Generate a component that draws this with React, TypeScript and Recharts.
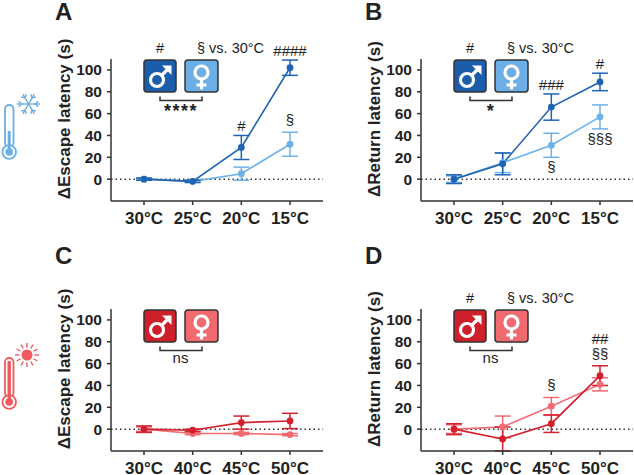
import React from 'react';
import { LineChart, Line, XAxis, YAxis, ErrorBar, ReferenceLine } from 'recharts';

// categories
const coldTemps = ['30°C', '25°C', '20°C', '15°C'];
const heatTemps = ['30°C', '40°C', '45°C', '50°C'];
const yTicks = [0, 20, 40, 60, 80, 100];

// A - escape latency, cold
const escColdMale = [0, -2, 29, 102];
const escColdMaleErr = [1, 1, 11, 7];
const escColdFemale = [0, -2, 5, 32];
const escColdFemaleErr = [1, 1, 6, 11];
const escColdMaleAbove = ['', '', '#', '####'];
const escColdFemaleAbove = ['', '', '', '§'];

// B - return latency, cold
const retColdMale = [0, 14, 66, 89];
const retColdMaleErr = [4, 10, 12, 8];
const retColdFemale = [0, 15, 31, 57];
const retColdFemaleErr = [3, 9, 11, 11];
const retColdMaleAbove = ['', '', '###', '#'];
const retColdFemaleBelow = ['', '', '§', '§§§'];

// C - escape latency, heat
const escHeatMale = [0, -1, 6, 7.5];
const escHeatMaleErr = [3, 1, 6, 7];
const escHeatFemale = [0, -4, -4, -5];
const escHeatFemaleErr = [2, 1, 1, 1];

// D - return latency, heat
const retHeatMale = [0, -9, 5, 49];
const retHeatMaleErr = [5, 11, 8, 9];
const retHeatFemale = [0, 2, 21, 41];
const retHeatFemaleErr = [4, 10, 8, 6];
const retHeatMaleAbove = ['', '', '', '##'];
const retHeatFemaleAbove = ['', '', '§', '§§'];

const blue = { dark: '#1f63b3', light: '#6db1e8', boxDark: '#1b5dab', boxLight: '#6caee6' };
const red = { dark: '#d3202e', light: '#f26a72', boxDark: '#cf1f2a', boxLight: '#f06a70' };

const Y_MIN = -20;
const Y_MAX = 110;
const PLOT_TOP = 59;
const CH_H = 240;
const CH_W = 324;
const PLOT_H = CH_H - PLOT_TOP - 9 - 30;
const K = PLOT_H / (Y_MAX - Y_MIN);
const INK = '#222';
const FONT = '"Liberation Sans", Arial, sans-serif';

type Row = {
  t: string;
  male: number; maleErr: number; female: number; femaleErr: number;
  maleAbove: string; femaleAbove: string; maleBelow: string; femaleBelow: string;
};

const blank = ['', '', '', ''];

function makeRows(cats: string[], m: number[], me: number[], f: number[], fe: number[],
  mA = blank, fA = blank, mB = blank, fB = blank): Row[] {
  return cats.map((t, i) => ({
    t, male: m[i], maleErr: me[i], female: f[i], femaleErr: fe[i],
    maleAbove: mA[i], femaleAbove: fA[i], maleBelow: mB[i], femaleBelow: fB[i],
  }));
}

const makeDot = (series: 'male' | 'female', color: string) => (p: any) => {
  const { cx, cy, index, payload } = p;
  const own = payload[series];
  const px = (v: number) => cy - (v - own) * K;
  const above = payload[series + 'Above'];
  const below = payload[series + 'Below'];
  const maleTop = payload.male + payload.maleErr;
  const femaleTop = payload.female + payload.femaleErr;
  // notes of both series stack only when the two bars end close together
  const stacked = payload.maleAbove && payload.femaleAbove && Math.abs(maleTop - femaleTop) < 20;
  let aboveEl = null;
  if (above) {
    const top = stacked ? Math.max(maleTop, femaleTop) : own + payload[series + 'Err'];
    const row = stacked && series === 'male' ? 1 : 0;
    const off = above.startsWith('§') ? 7 : 4;
    aboveEl = (
      <text x={cx} y={px(top) - off - row * 18} textAnchor="middle" fontSize={15} fill={INK}>{above}</text>
    );
  }
  let belowEl = null;
  if (below) {
    const bottom = own - payload[series + 'Err'];
    belowEl = (
      <text x={cx} y={px(bottom) + 15} textAnchor="middle" fontSize={15} fill={INK}>{below}</text>
    );
  }
  return (
    <g key={`${series}-dot-${index}`}>
      <circle cx={cx} cy={cy} r={3.4} fill={color} stroke="none" />
      {aboveEl}
      {belowEl}
    </g>
  );
};

const MaleIcon = ({ x, y, fill }: { x: number; y: number; fill: string }) => (
  <g transform={`translate(${x},${y})`}>
    <rect x={0} y={0} width={32} height={32} rx={3} fill={fill} stroke="#333" strokeWidth={1.5} />
    <circle cx={13} cy={20} r={6.5} fill="none" stroke="#fff" strokeWidth={3.2} />
    <line x1={17.5} y1={15.5} x2={24} y2={9} stroke="#fff" strokeWidth={3.2} />
    <path d="M18 5.5 L27.5 5.5 L27.5 15 Z" fill="#fff" />
  </g>
);

const FemaleIcon = ({ x, y, fill }: { x: number; y: number; fill: string }) => (
  <g transform={`translate(${x},${y})`}>
    <rect x={0} y={0} width={33} height={32} rx={3} fill={fill} stroke="#333" strokeWidth={1.5} />
    <circle cx={16.5} cy={12.5} r={6.5} fill="none" stroke="#fff" strokeWidth={3.2} />
    <line x1={16.5} y1={19} x2={16.5} y2={29.5} stroke="#fff" strokeWidth={3.2} />
    <line x1={11.5} y1={25} x2={21.5} y2={25} stroke="#fff" strokeWidth={3} />
  </g>
);

const ColdIcon = () => {
  const c = '#6aaee6';
  const arms = [0, 60, 120, 180, 240, 300].map((a) => {
    const r = (a * Math.PI) / 180;
    const ex = 28.5 + 11.5 * Math.cos(r);
    const ey = 104 + 11.5 * Math.sin(r);
    const bx = 28.5 + 7 * Math.cos(r);
    const by = 104 + 7 * Math.sin(r);
    const b1 = r + 0.8;
    const b2 = r - 0.8;
    return (
      <g key={a} stroke={c} strokeWidth={1.4}>
        <line x1={28.5} y1={104} x2={ex} y2={ey} />
        <line x1={bx} y1={by} x2={bx + 4 * Math.cos(b1)} y2={by + 4 * Math.sin(b1)} />
        <line x1={bx} y1={by} x2={bx + 4 * Math.cos(b2)} y2={by + 4 * Math.sin(b2)} />
      </g>
    );
  });
  return (
    <g>
      <rect x={5} y={105} width={8.5} height={42} rx={4.2} fill="#fff" stroke={c} strokeWidth={1.8} />
      <circle cx={9.2} cy={152} r={6.8} fill="#fff" stroke={c} strokeWidth={1.8} />
      <rect x={7.7} y={131} width={3} height={20} fill={c} />
      <circle cx={9.2} cy={152} r={3.8} fill={c} />
      {arms}
    </g>
  );
};

const HeatIcon = () => {
  const c = '#f0595e';
  const rays = Array.from({ length: 12 }, (_, i) => {
    const r = (i * 30 * Math.PI) / 180;
    return (
      <line key={i} x1={27 + 7.5 * Math.cos(r)} y1={105 + 7.5 * Math.sin(r)}
        x2={27 + 12 * Math.cos(r)} y2={105 + 12 * Math.sin(r)} stroke={c} strokeWidth={1.4} />
    );
  });
  return (
    <g>
      <rect x={5} y={108} width={8.5} height={39} rx={4.2} fill="#fff" stroke={c} strokeWidth={1.8} />
      <circle cx={9.2} cy={152} r={6.8} fill="#fff" stroke={c} strokeWidth={1.8} />
      <rect x={7.5} y={111} width={3.4} height={40} fill={c} />
      <circle cx={9.2} cy={152} r={3.8} fill={c} />
      <circle cx={27} cy={105} r={5.5} fill={c} />
      {rays}
    </g>
  );
};

type PanelProps = {
  ox: number; oy: number; letter: string; letterY: number; yLabel: string;
  rows: Row[]; colors: typeof blue; sig: string; header: boolean; icon?: 'cold' | 'heat';
};

const Panel = ({ ox, oy, letter, letterY, yLabel, rows, colors, sig, header, icon }: PanelProps) => (
  <div style={{ position: 'absolute', left: ox, top: oy, width: CH_W, height: CH_H }}>
    <LineChart width={CH_W} height={CH_H} data={rows}
      margin={{ top: PLOT_TOP, right: 1, bottom: 9, left: 61 }}>
      <XAxis dataKey="t" interval={0} padding={{ left: 33, right: 33 }} height={30}
        tickSize={4} tickMargin={7}
        axisLine={{ stroke: '#333', strokeWidth: 1.5 }} tickLine={{ stroke: '#333', strokeWidth: 1.5 }}
        tick={{ fontSize: 17, fontWeight: 700, fill: INK }} />
      <YAxis domain={[Y_MIN, Y_MAX]} ticks={yTicks} interval={0} width={50} tickSize={4} tickMargin={5}
        axisLine={{ stroke: '#333', strokeWidth: 1.5 }} tickLine={{ stroke: '#333', strokeWidth: 1.5 }}
        tick={{ fontSize: 15.5, fontWeight: 700, fill: INK }} />
      <ReferenceLine y={0} stroke="#333" strokeWidth={1.5} strokeDasharray="1.5 3" />
      <Line dataKey="female" stroke={colors.light} strokeWidth={1.6} isAnimationActive={false}
        dot={makeDot('female', colors.light)} activeDot={false}>
        <ErrorBar dataKey="femaleErr" width={8} stroke={colors.light} strokeWidth={1.5}
          direction="y" isAnimationActive={false} />
      </Line>
      <Line dataKey="male" stroke={colors.dark} strokeWidth={1.6} isAnimationActive={false}
        dot={makeDot('male', colors.dark)} activeDot={false}>
        <ErrorBar dataKey="maleErr" width={8} stroke={colors.dark} strokeWidth={1.5}
          direction="y" isAnimationActive={false} />
      </Line>
    </LineChart>
    <svg width={CH_W} height={CH_H} style={{ position: 'absolute', left: 0, top: 0, overflow: 'visible', pointerEvents: 'none' }}>
      <text x={55} y={letterY} fontSize={24} fontWeight={700} fill={INK}>{letter}</text>
      <text transform="translate(70,119) rotate(-90)" textAnchor="middle" fontSize={17} fontWeight={700} fill={INK}>{yLabel}</text>
      {header && (
        <g fontSize={14.5} fill={INK}>
          <text x={160} y={53} textAnchor="middle">#</text>
          <text x={197} y={53}>§ vs. 30°C</text>
        </g>
      )}
      <MaleIcon x={144} y={60} fill={colors.boxDark} />
      <FemaleIcon x={185} y={60} fill={colors.boxLight} />
      <path d="M160 96.5 V100.5 H202 V96.5" fill="none" stroke="#333" strokeWidth={1.5} />
      {sig === 'ns'
        ? <text x={180.5} y={113.3} textAnchor="middle" fontSize={15} fill={INK}>ns</text>
        : <text x={181} y={116.5} textAnchor="middle" fontSize={18} fontWeight={700} letterSpacing={1.5} fill={INK}>{sig}</text>}
      {icon === 'cold' && <ColdIcon />}
      {icon === 'heat' && <HeatIcon />}
    </svg>
  </div>
);

const App = () => {
  const rowsA = makeRows(coldTemps, escColdMale, escColdMaleErr, escColdFemale, escColdFemaleErr,
    escColdMaleAbove, escColdFemaleAbove);
  const rowsB = makeRows(coldTemps, retColdMale, retColdMaleErr, retColdFemale, retColdFemaleErr,
    retColdMaleAbove, blank, blank, retColdFemaleBelow);
  const rowsC = makeRows(heatTemps, escHeatMale, escHeatMaleErr, escHeatFemale, escHeatFemaleErr);
  const rowsD = makeRows(heatTemps, retHeatMale, retHeatMaleErr, retHeatFemale, retHeatFemaleErr,
    retHeatMaleAbove, retHeatFemaleAbove);
  return (
    <div style={{ position: 'relative', width: 634, height: 475, background: '#fff', overflow: 'hidden', fontFamily: FONT }}>
      <style>{'body{margin:0}'}</style>
      <Panel ox={0} oy={0} letter="A" letterY={20} yLabel="ΔEscape latency (s)" rows={rowsA}
        colors={blue} sig="****" header icon="cold" />
      <Panel ox={310} oy={0} letter="B" letterY={20} yLabel="ΔReturn latency (s)" rows={rowsB}
        colors={blue} sig="*" header />
      <Panel ox={0} oy={250} letter="C" letterY={13.5} yLabel="ΔEscape latency (s)" rows={rowsC}
        colors={red} sig="ns" header={false} icon="heat" />
      <Panel ox={310} oy={250} letter="D" letterY={13.5} yLabel="ΔReturn latency (s)" rows={rowsD}
        colors={red} sig="ns" header />
    </div>
  );
};

export default App;
